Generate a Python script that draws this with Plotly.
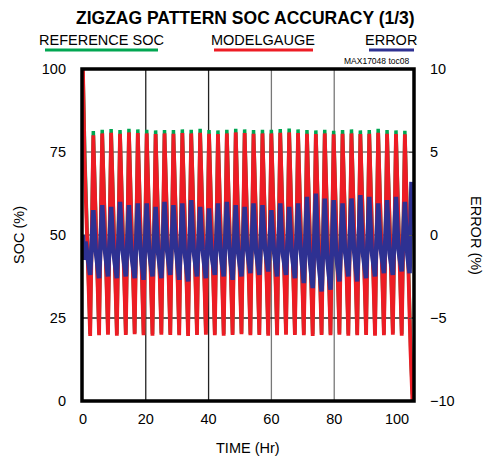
import plotly.graph_objects as go

# ---------------- data ----------------
peak_t = [3.30, 6.13, 8.97, 11.80, 14.64, 17.47, 20.30, 23.14, 25.97, 28.81,
          31.64, 34.47, 37.31, 40.14, 42.98, 45.81, 48.64, 51.48, 54.31, 57.15,
          59.98, 62.81, 65.65, 68.48, 71.32, 74.15, 76.98, 79.82, 82.65, 85.49,
          88.32, 91.15, 93.99, 96.82, 99.66, 102.49]
trough_t = [2.30, 5.13, 7.97, 10.80, 13.64, 16.47, 19.30, 22.14, 24.97, 27.81,
            30.64, 33.47, 36.31, 39.14, 41.98, 44.81, 47.64, 50.48, 53.31, 56.15,
            58.98, 61.81, 64.65, 67.48, 70.32, 73.15, 75.98, 78.82, 81.65, 84.49,
            87.32, 90.15, 92.99, 95.82, 98.66, 101.49]

mg_peak = [80.0, 80.6, 80.8, 80.5, 80.9, 80.7, 80.6, 80.4, 80.6, 80.5,
           80.7, 80.6, 80.8, 80.5, 80.4, 80.6, 80.9, 80.7, 80.5, 80.6,
           80.6, 80.8, 80.9, 80.7, 80.5, 80.4, 80.6, 80.3, 80.5, 80.6,
           80.4, 80.5, 80.8, 80.5, 80.4, 80.3]
mg_trough = [19.6, 19.8, 20.0, 19.7, 19.9, 20.1, 19.8, 19.7, 20.0, 19.9,
             19.8, 19.6, 19.9, 20.0, 19.8, 19.7, 19.9, 20.1, 19.8, 19.9,
             19.7, 19.8, 20.0, 19.9, 19.8, 19.6, 19.9, 19.8, 20.0, 19.7,
             19.8, 19.9, 19.7, 19.8, 20.0, 19.7]
ref_peak = [81.3, 81.7, 81.9, 81.6, 82.0, 81.8, 81.7, 81.5, 81.6, 81.6,
            81.8, 81.7, 82.0, 81.6, 81.5, 81.7, 82.0, 81.8, 81.6, 81.7,
            81.7, 81.9, 82.1, 81.8, 81.6, 81.5, 81.7, 81.4, 81.6, 81.8,
            81.5, 81.6, 82.0, 81.6, 81.5, 81.4]
ref_trough = [20.2, 20.3, 20.4, 20.2, 20.3, 20.5, 20.3, 20.2, 20.4, 20.3,
              20.2, 20.1, 20.3, 20.4, 20.2, 20.2, 20.3, 20.5, 20.2, 20.3,
              20.2, 20.3, 20.4, 20.3, 20.2, 20.1, 20.3, 20.2, 20.4, 20.2,
              20.2, 20.3, 20.2, 20.2, 20.4, 20.2]

mg_start_t, mg_start_v = [0.0, 0.5], [100.0, 73.5]
mg_end_t, mg_end_v = [104.3, 104.9], [15.0, 0.0]
ref_start_t, ref_start_v = [0.0, 0.6], [100.0, 74.0]
ref_end_t, ref_end_v = [104.4, 104.9], [14.0, 2.0]

err_lo = [-2.4, -2.6, -2.5, -2.6, -2.5, -2.6, -2.7, -2.5, -2.6, -2.4,
          -2.7, -2.8, -2.5, -2.6, -2.4, -2.5, -2.7, -2.5, -2.3, -2.4,
          -2.2, -2.5, -2.4, -2.6, -2.9, -3.2, -3.4, -3.3, -2.8, -2.5,
          -2.8, -2.6, -2.5, -2.3, -2.4, -2.2]
err_hi = [1.5, 1.8, 1.7, 2.0, 1.8, 1.9, 1.9, 1.7, 2.0, 1.8,
          1.9, 2.1, 1.7, 1.6, 1.9, 2.0, 1.8, 1.7, 1.9, 1.8,
          1.5, 1.9, 1.7, 1.9, 2.3, 2.5, 2.2, 2.1, 1.9, 2.2,
          2.4, 2.3, 1.9, 2.1, 2.3, 2.0]
err_mid_dt = 0.8
err_mid = [-1.0, -0.8, -1.1, -0.9, -1.2, -0.8, -1.0, -1.1, -0.9, -0.8,
           -1.1, -1.0, -0.9, -1.2, -1.0, -0.8, -1.1, -0.9, -1.0, -0.8,
           -0.9, -1.1, -1.0, -0.8, -1.3, -1.5, -1.4, -1.2, -1.0, -0.9,
           -1.1, -1.0, -0.8, -1.1, -0.9, -1.2]
err_start_t, err_start_v = [0.0, 0.3, 0.8, 1.5], [0.0, -1.5, -0.4, -1.2]
err_end_t, err_end_v = [104.0, 104.6], [-2.3, 3.2]

x_ticks = [0, 20, 40, 60, 80, 100]
soc_ticks = [0, 25, 50, 75, 100]
err_ticks = [-10, -5, 0, 5, 10]

# ---------------- build polylines ----------------
def zigzag(st, sv, pk, pv, tr, tv, et, ev):
    t, v = list(st), list(sv)
    for a, b, c, d in zip(tr, tv, pk, pv):
        t += [a, c]
        v += [b, d]
    return t + list(et), v + list(ev)

mg_t, mg_v = zigzag(mg_start_t, mg_start_v, peak_t, mg_peak, trough_t, mg_trough, mg_end_t, mg_end_v)
ref_t, ref_v = zigzag(ref_start_t, ref_start_v, peak_t, ref_peak, trough_t, ref_trough, ref_end_t, ref_end_v)

e_t, e_v = list(err_start_t), list(err_start_v)
for a, lo, c, hi, m in zip(trough_t, err_lo, peak_t, err_hi, err_mid):
    e_t += [a, c, c + err_mid_dt]
    e_v += [lo, hi, m]
e_t += err_end_t
e_v += err_end_v

RED = "#ED1C24"
GREEN = "#00A651"
BLUE = "#2E3192"
FONT = "Liberation Sans, Arial, sans-serif"

fig = go.Figure()
fig.add_trace(go.Scatter(x=ref_t, y=ref_v, mode="lines", line=dict(color=GREEN, width=3.5),
                         name="REFERENCE SOC", showlegend=False))
fig.add_trace(go.Scatter(x=mg_t, y=mg_v, mode="lines", line=dict(color=RED, width=3.8),
                         name="MODELGAUGE", showlegend=False))
fig.add_trace(go.Scatter(x=e_t, y=e_v, mode="lines", line=dict(color=BLUE, width=4.5),
                         name="ERROR", yaxis="y2", showlegend=False))

W, H = 495, 464
L, R, T, B = 82, 81, 69, 63
PW, PH = W - L - R, H - T - B

def px(x):
    return (x - L) / PW

def py(y):
    return (H - B - y) / PH

shapes = []
for xv, col in [(20, "#222222"), (40, "#222222"), (60, "#777777"), (80, "#777777")]:
    shapes.append(dict(type="line", xref="x", yref="paper", x0=xv, x1=xv, y0=0, y1=1,
                       line=dict(color=col, width=1.3), layer="below"))
for yv, col in [(25, "#222222"), (50, "#777777"), (75, "#777777")]:
    shapes.append(dict(type="line", xref="paper", yref="y", x0=0, x1=1, y0=yv, y1=yv,
                       line=dict(color=col, width=1.3), layer="below"))
shapes.append(dict(type="rect", xref="paper", yref="paper", x0=0, x1=1, y0=0, y1=1,
                   line=dict(color="black", width=3.5), layer="above"))
# legend underlines
for x0, x1, col in [(45, 158, GREEN), (214, 313, RED), (369, 414, BLUE)]:
    shapes.append(dict(type="line", xref="paper", yref="paper", x0=px(x0), x1=px(x1),
                       y0=py(50), y1=py(50), line=dict(color=col, width=3)))

ann = []
ann.append(dict(text="<b>ZIGZAG PATTERN SOC ACCURACY (1/3)</b>", x=px(245), y=py(18),
                font=dict(size=17.5, family=FONT, color="black")))
for txt, xc in [("REFERENCE SOC", 101.5), ("MODELGAUGE", 263), ("ERROR", 390.5)]:
    ann.append(dict(text=txt, x=px(xc), y=py(40), font=dict(size=14.5, family=FONT, color="black")))
ann.append(dict(text="MAX17048 toc08", x=px(411), y=py(61), xanchor="right",
                font=dict(size=8.5, family=FONT, color="black")))
ann.append(dict(text="SOC (%)", x=px(19), y=py(235), textangle=-90,
                font=dict(size=14.5, family=FONT, color="black")))
ann.append(dict(text="ERROR (%)", x=px(476), y=py(235), textangle=90,
                font=dict(size=14.5, family=FONT, color="black")))
ann.append(dict(text="TIME (Hr)", x=px(248), y=py(448),
                font=dict(size=14.5, family=FONT, color="black")))
for a in ann:
    a.update(xref="paper", yref="paper", showarrow=False)
    a.setdefault("xanchor", "center")
    a["yanchor"] = "middle"

tickfont = dict(size=14.5, family=FONT, color="black")
fig.update_layout(
    width=W, height=H,
    margin=dict(l=L, r=R, t=T, b=B, pad=0),
    paper_bgcolor="white", plot_bgcolor="white",
    showlegend=False,
    shapes=shapes, annotations=ann,
    xaxis=dict(range=[-0.3, 105.4], tickvals=x_ticks, showgrid=False, zeroline=False,
               showline=False, ticks="", tickfont=tickfont, ticklabelstandoff=7,
               fixedrange=True),
    yaxis=dict(range=[0, 100], tickvals=soc_ticks, showgrid=False, zeroline=False,
               showline=False, ticks="", tickfont=tickfont, ticklabelstandoff=15,
               fixedrange=True),
    yaxis2=dict(range=[-10, 10], tickvals=err_ticks, overlaying="y", side="right",
                showgrid=False, zeroline=False, showline=False, ticks="inside",
                ticklen=5, tickcolor="#555", tickfont=tickfont, ticklabelstandoff=15,
                fixedrange=True),
)

fig.write_html("out.html", config={"displayModeBar": False},
               post_script="document.body.style.margin='0px';")
